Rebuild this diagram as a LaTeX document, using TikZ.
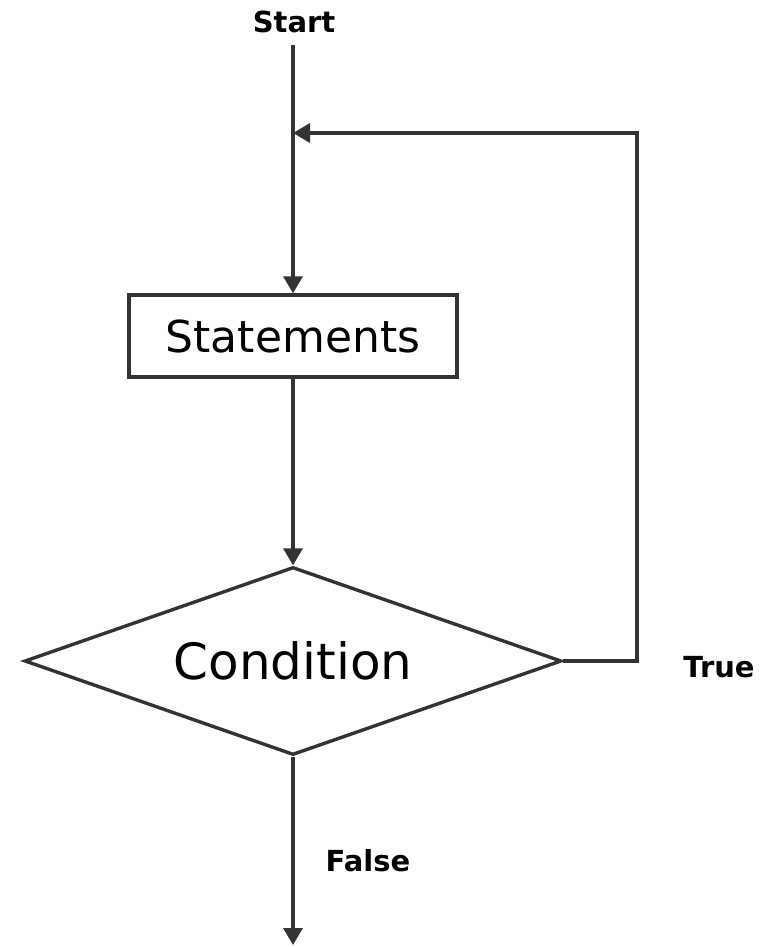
\documentclass[tikz,border=0pt]{standalone}
\usepackage{fontspec}
\setmainfont{DejaVu Sans}
\usetikzlibrary{shapes,arrows.meta,positioning}

\begin{document}
\begin{tikzpicture}[x=1pt,y=-1pt, line width=3.4pt, draw=black!80,
    flow/.style={-{Triangle[length=17pt,width=19pt]}},
    lbl/.style={font=\fontsize{29}{34}\selectfont\bfseries}]
    \useasboundingbox (0,0) rectangle (772,947);
    % labels
    \node[lbl] (start) at (294,22) {Start};
    \node[lbl] (true) at (719,667) {True};
    \node[lbl] (false) at (368,861) {False};
    % boxes
    \node[draw, minimum width=328pt, minimum height=82pt, font=\fontsize{44}{50}\selectfont] (stmt) at (293,336) {Statements};
    \node[draw, diamond, aspect=2.86, inner sep=0pt, minimum width=537pt, minimum height=188pt, font=\fontsize{50}{56}\selectfont] (cond) at (293,661) {Condition};
    % free ends
    \coordinate (top) at (293,45);
    \coordinate (join) at (293,133);
    \coordinate (corner) at (637,133);
    \coordinate (bottom) at (293,945);
    % connectors
    \draw (top) -- (join);
    \draw[flow] (join) -- (stmt.north);
    \draw[flow] (stmt.south) -- (cond.north);
    \draw[flow] (cond.east) -- (cond.east -| corner) -- (corner) -- (join);
    \draw[flow] (cond.south) -- (bottom);
\end{tikzpicture}
\end{document}
